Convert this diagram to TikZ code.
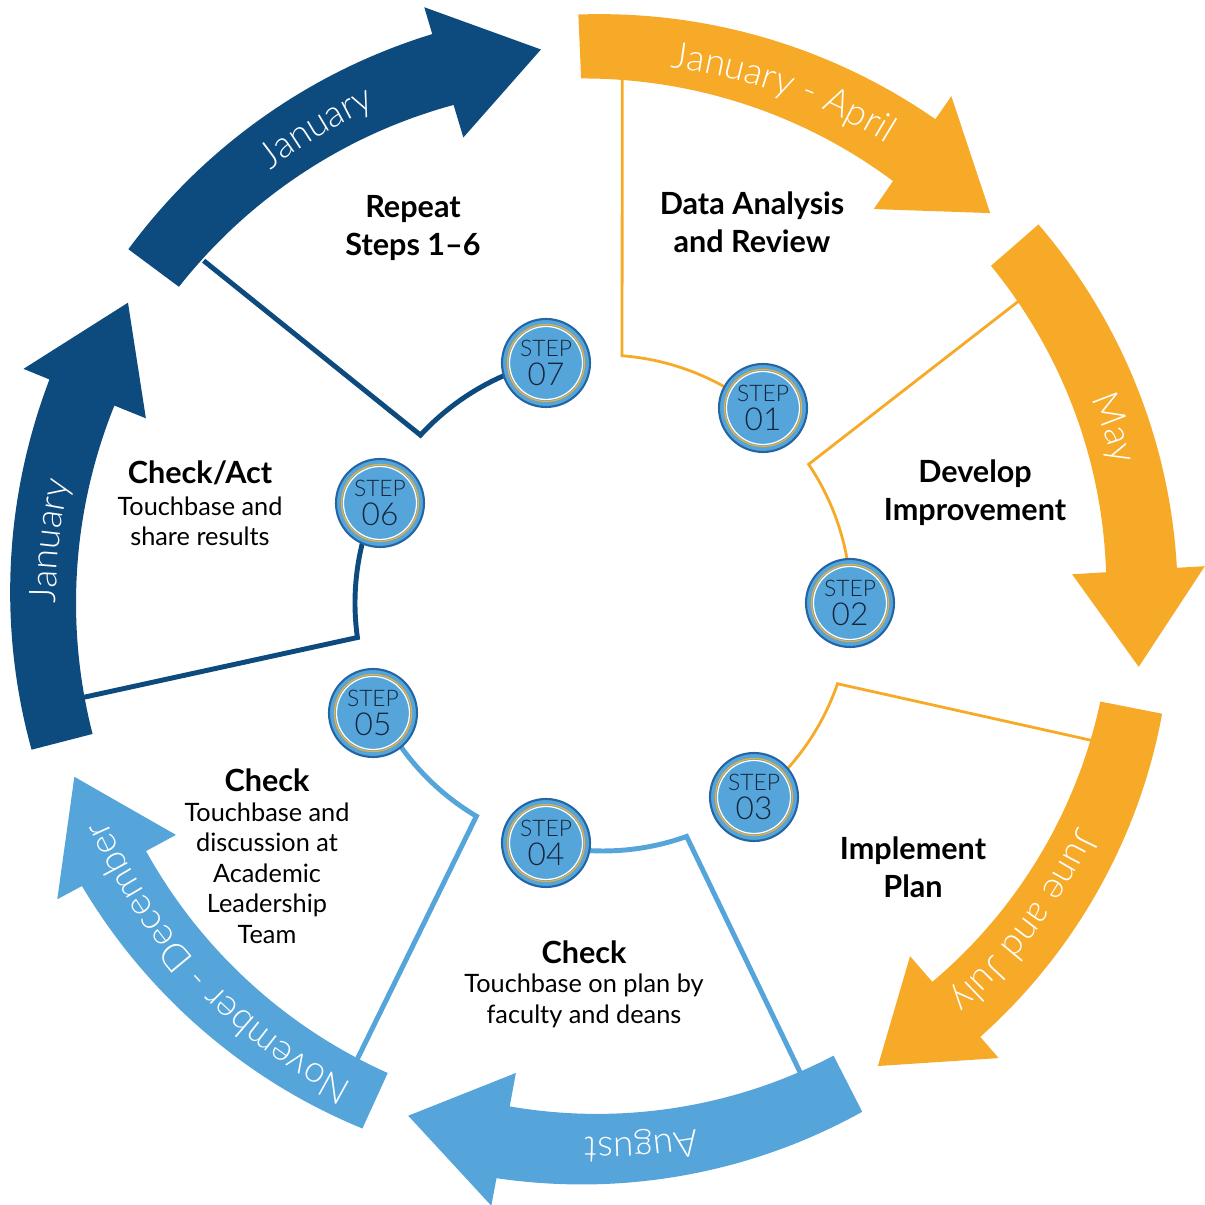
\documentclass[tikz,border=0pt]{standalone}
\usepackage{fontspec}
\setmainfont{Lato}
\newfontfamily\monthfont{Lato Light}
\usetikzlibrary{decorations.text}

\definecolor{cycleorange}{HTML}{F6AA27}
\definecolor{cycledark}{HTML}{0D4A7D}
\definecolor{cyclelight}{HTML}{55A5DB}
\definecolor{stepedge}{HTML}{2466A4}
\definecolor{steptext}{HTML}{15263A}

\newcommand{\monthstyle}{\monthfont\fontsize{10.5}{12}\selectfont}
% tail angle, head angle, outer r (tail, head), inner r (tail, head), colour
\newcommand{\cyclearrow}[7]{%
  \fill[#7] plot[domain=0:1, samples=40] ({#1+(#2-(#1))*\x}:{#3+(#4-#3)*\x})
    -- ({#2}:{#4+0.28}) -- ({#2-10.3}:{(#4+#6)/2}) -- ({#2}:{#6-0.34})
    -- plot[domain=0:1, samples=40] ({#2+(#1-(#2))*\x}:{#6+(#5-#6)*\x}) -- cycle;}
% centre angle, baseline radius, text
\newcommand{\monthlabel}[3]{%
  \path[decorate, decoration={text along path, text align=center, text color=white,
    text={|\monthstyle|#3}}] ({#1+35}:#2) arc[start angle={#1+35}, end angle={#1-35}, radius=#2cm];}

\tikzset{
  stepnode/.style={circle, fill=cyclelight, draw=stepedge, line width=0.6pt,
    minimum size=0.88cm, inner sep=0pt, align=center, text=steptext,
    font=\monthfont\fontsize{9}{8.5}\selectfont,
    path picture={
      \draw[cycleorange, line width=0.35pt] (path picture bounding box.center) circle (0.385);
      \draw[white, line width=0.35pt] (path picture bounding box.center) circle (0.365);}},
  link/.style={line width=#1},
  stagehead/.style={align=center, font=\bfseries\fontsize{8.7}{10.8}\selectfont},
  stagebody/.style={align=center, font=\fontsize{7.2}{8.7}\selectfont},
}

\begin{document}
\begin{tikzpicture}
\useasboundingbox (-6.03,-6.02) rectangle (6.01,6.03);
% ring of arrows
\cyclearrow{92.4}{55.5}{5.89}{5.87}{5.25}{5.12}{cycleorange}
\cyclearrow{41.0}{3.5}{5.77}{5.75}{5.14}{5.04}{cycleorange}
\cyclearrow{-11.2}{-49.0}{5.70}{5.75}{5.07}{5.02}{cycleorange}
\cyclearrow{-63.0}{-100.5}{5.71}{5.85}{5.08}{5.12}{cyclelight}
\cyclearrow{-114.6}{-151.5}{5.78}{5.93}{5.17}{5.20}{cyclelight}
\cyclearrow{194.4}{158.0}{5.90}{5.97}{5.27}{5.27}{cycledark}
\cyclearrow{143.3}{106.7}{5.92}{5.94}{5.29}{5.20}{cycledark}
%
\monthlabel{70.6}{5.40}{January - April}
\monthlabel{18.9}{5.29}{May}
\monthlabel{-37}{5.25}{June and July}
\monthlabel{-85.9}{5.35}{August}
\monthlabel{-137}{5.42}{November - December}
\monthlabel{173.6}{5.47}{January}
\monthlabel{121.1}{5.46}{January}
%
\foreach \k/\ta/\tr/\ba/\sa/\sx/\sy/\col/\lw in {
    1/87.9/5.26/85.6/51.4/1.60/1.95/cycleorange/0.8pt,
    2/36.0/5.16/34.0/0/2.47/0/cycleorange/0.8pt,
    3/-15.7/5.09/-19.0/-52.1/1.51/-1.94/cycleorange/0.8pt,
    4/-67.2/5.12/-70.3/-103.4/-0.57/-2.40/cyclelight/1.4pt,
    5/-118.3/5.21/-120.7/-154.4/-2.30/-1.10/cyclelight/1.4pt,
    6/190.3/5.29/188.0/155.8/-2.23/1.00/cycledark/1.4pt,
    7/139.4/5.26/137.4/103.4/-0.57/2.40/cycledark/1.4pt}{
  \coordinate (c\k) at (\ta:\tr);
  \coordinate (b\k) at (\ba:2.48);
  \draw[link=\lw, \col] (c\k) -- (b\k) arc[start angle=\ba, end angle=\sa, radius=2.48cm];
  \node[stepnode] (s\k) at (\sx,\sy) {{\fontsize{6.5}{8.5}\selectfont STEP}\\0\k};
}
%
\node[stagehead] (h1) at (1.49,3.81) {Data Analysis\\and Review};
\node[stagehead] (h2) at (3.72,1.10) {Develop\\Improvement};
\node[stagehead] (h3) at (3.10,-2.64) {Implement\\Plan};
\node[stagehead] (h4) at (-0.19,-3.49) {Check};
\node[stagebody] (d4) at (-0.19,-3.98) {Touchbase on plan by\\faculty and deans};
\node[stagehead] (h5) at (-3.36,-1.77) {Check};
\node[stagebody] (d5) at (-3.36,-2.70) {Touchbase and\\discussion at\\Academic\\Leadership\\Team};
\node[stagehead] (h6) at (-4.03,1.30) {Check/Act};
\node[stagebody] (d6) at (-4.03,0.815) {Touchbase and\\share results};
\node[stagehead] (h7) at (-1.90,3.75) {Repeat\\Steps 1--6};
\end{tikzpicture}
\end{document}
